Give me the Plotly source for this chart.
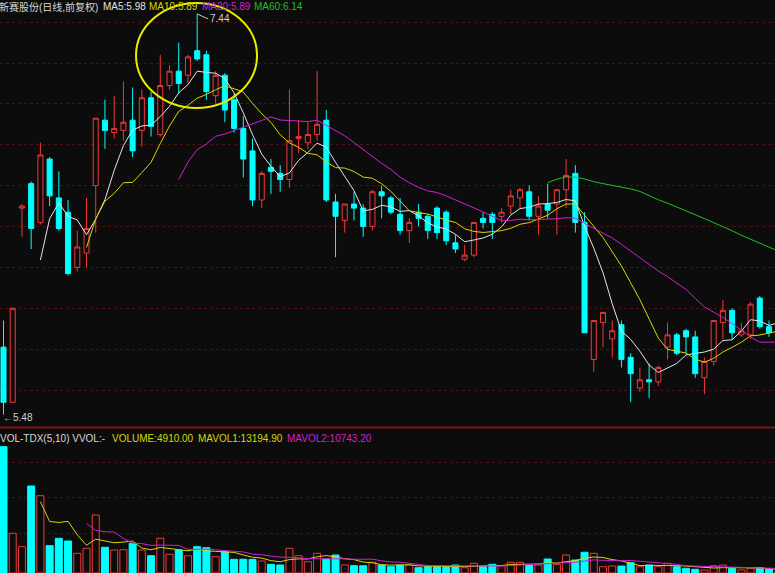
import pandas as pd
import plotly.graph_objects as go

# ---- daily bars (前复权) ----
opens = [5.81, 5.54, 6.49, 6.61, 6.42, 6.73, 6.54, 6.47, 6.20, 6.27,
         6.60, 6.92, 6.86, 6.87, 6.92, 6.87, 7.03, 6.85, 7.09, 7.16,
         7.14, 7.26, 7.24, 7.04, 7.14, 7.02, 6.88, 6.77, 6.53, 6.69,
         6.66, 6.63, 6.83, 6.81, 6.85, 6.92, 6.52, 6.43, 6.51, 6.49,
         6.40, 6.57, 6.54, 6.46, 6.38, 6.47, 6.45, 6.49, 6.47, 6.32,
         6.24, 6.26, 6.44, 6.46, 6.45, 6.50, 6.54, 6.57, 6.45, 6.51,
         6.51, 6.58, 6.66, 6.42, 5.75, 5.93, 5.85, 5.92, 5.76, 5.61,
         5.65, 5.64, 5.81, 5.87, 5.89, 5.86, 5.66, 5.74, 5.93, 5.99,
         5.87, 5.87, 6.05, 5.91, 5.90]
highs = [5.94, 6.00, 6.51, 6.62, 6.81, 6.74, 6.67, 6.53, 6.38, 6.54,
         6.93, 7.02, 7.04, 7.11, 7.08, 7.07, 7.06, 7.24, 7.19, 7.30,
         7.24, 7.44, 7.26, 7.16, 7.15, 7.05, 6.94, 6.83, 6.67, 6.73,
         6.70, 7.07, 6.92, 6.91, 7.16, 6.97, 6.56, 6.51, 6.57, 6.51,
         6.58, 6.60, 6.55, 6.54, 6.44, 6.51, 6.46, 6.50, 6.48, 6.36,
         6.31, 6.42, 6.47, 6.47, 6.49, 6.58, 6.59, 6.60, 6.55, 6.61,
         6.58, 6.73, 6.70, 6.47, 5.94, 5.98, 5.94, 5.94, 5.78, 5.71,
         5.73, 5.72, 5.93, 5.88, 5.90, 5.89, 5.76, 5.94, 6.04, 6.00,
         5.93, 6.03, 6.06, 5.94, 5.98]
lows = [5.48, 5.54, 6.35, 6.29, 6.41, 6.50, 6.38, 6.16, 6.18, 6.20,
        6.37, 6.78, 6.83, 6.82, 6.74, 6.79, 6.84, 6.84, 7.07, 7.05,
        7.10, 7.21, 7.02, 7.00, 6.91, 6.86, 6.64, 6.50, 6.49, 6.56,
        6.57, 6.59, 6.76, 6.78, 6.82, 6.52, 6.25, 6.37, 6.43, 6.35,
        6.38, 6.44, 6.46, 6.36, 6.32, 6.40, 6.34, 6.34, 6.31, 6.27,
        6.23, 6.25, 6.39, 6.34, 6.42, 6.46, 6.49, 6.43, 6.36, 6.44,
        6.36, 6.49, 6.37, 5.88, 5.69, 5.81, 5.76, 5.71, 5.54, 5.59,
        5.56, 5.62, 5.75, 5.77, 5.78, 5.66, 5.58, 5.72, 5.85, 5.85,
        5.86, 5.85, 5.90, 5.86, 5.88]
closes = [5.54, 6.00, 6.50, 6.39, 6.75, 6.55, 6.39, 6.17, 6.30, 6.39,
          6.93, 6.87, 6.88, 6.91, 6.77, 7.03, 6.89, 7.09, 7.16, 7.10,
          7.23, 7.22, 7.06, 7.14, 6.97, 6.88, 6.73, 6.53, 6.66, 6.67,
          6.63, 6.82, 6.84, 6.85, 6.90, 6.53, 6.45, 6.51, 6.49, 6.40,
          6.57, 6.55, 6.47, 6.38, 6.42, 6.44, 6.38, 6.37, 6.33, 6.29,
          6.26, 6.42, 6.42, 6.42, 6.47, 6.55, 6.58, 6.45, 6.50, 6.48,
          6.58, 6.65, 6.42, 5.88, 5.94, 5.98, 5.89, 5.75, 5.68, 5.65,
          5.64, 5.71, 5.87, 5.78, 5.86, 5.68, 5.74, 5.94, 5.99, 5.88,
          5.89, 6.02, 5.91, 5.88, 5.95]
volumes = [328400, 103200, 68400, 226200, 201000, 71000, 90200, 83200, 51200, 64200,
           150800, 66800, 59800, 60500, 77200, 59600, 45000, 90200, 48600, 59900,
           44800, 68400, 65800, 42400, 55400, 35600, 35800, 35400, 31200, 22600,
           20800, 64300, 45000, 29400, 51300, 36400, 46800, 20900, 19000, 18900,
           27800, 20700, 16400, 20600, 20900, 13800, 16300, 16500, 16200, 20700,
           13700, 25200, 16400, 22600, 19000, 27900, 27800, 20800, 20700, 36400,
           22500, 46800, 33800, 53800, 51200, 16400, 18200, 18100, 26800, 16300,
           20800, 16500, 25200, 16200, 12200, 9600, 7800, 18900, 20800, 12300,
           7900, 12200, 13800, 9500, 4910]

# header texts
title_text = "新赛股份(日线,前复权)"
ma_labels = ["MA5:5.98", "MA10:5.89", "MA20:5.89", "MA60:6.14"]
vol_labels = ["VOL-TDX(5,10) VVOL:-", "VOLUME:4910.00", "MAVOL1:13194.90", "MAVOL2:10743.20"]

W, H = 775, 573
BG = "#0c0c0c"
RED = "#f03838"
CYAN = "#00ffff"
GRID = "#4a1212"
MA_COLORS = {5: "#e4e4e4", 10: "#d8d800", 20: "#d020d0", 60: "#20c020"}

# horizontal geometry: one bar per unit, 9.223 px apart
STEP = 9.223
XMIN = -3.5 / STEP
XMAX = XMIN + W / STEP

# vertical geometry of the two panes (pixels from top)
PRICE_BOTTOM_PX = 425
VOL_TOP_PX = 429
PX_PER_YUAN = 204.4
P_TOP = 7.2 + 63 / PX_PER_YUAN
P_BOTTOM = 7.2 - (PRICE_BOTTOM_PX - 63) / PX_PER_YUAN
VOL_PER_PX = 2600

idx = list(range(len(closes)))
cs = pd.Series(closes)
vs = pd.Series(volumes)

fig = go.Figure()

fig.add_trace(go.Candlestick(
    x=idx, open=opens, high=highs, low=lows, close=closes,
    increasing=dict(line=dict(color=RED, width=1), fillcolor=BG),
    decreasing=dict(line=dict(color=CYAN, width=1), fillcolor=CYAN),
    whiskerwidth=0, hoverinfo="skip", showlegend=False))

for n in (5, 10, 20, 60):
    fig.add_trace(go.Scatter(
        x=idx, y=cs.rolling(n).mean(), mode="lines",
        line=dict(color=MA_COLORS[n], width=1), hoverinfo="skip", showlegend=False))

up = [c >= o for o, c in zip(opens, closes)]
fig.add_trace(go.Bar(
    x=idx, y=volumes, yaxis="y2", width=0.76,
    marker=dict(color=[BG if u else CYAN for u in up],
                line=dict(color=[RED if u else CYAN for u in up], width=1)),
    hoverinfo="skip", showlegend=False))
fig.add_trace(go.Scatter(x=idx, y=vs.rolling(5).mean(), yaxis="y2", mode="lines",
                         line=dict(color="#d8d800", width=1), hoverinfo="skip", showlegend=False))
fig.add_trace(go.Scatter(x=idx, y=vs.rolling(10).mean(), yaxis="y2", mode="lines",
                         line=dict(color="#d020d0", width=1), hoverinfo="skip", showlegend=False))

def py(px):
    return 1 - px / H

fig.update_layout(
    width=W, height=H, margin=dict(l=0, r=0, t=0, b=0),
    paper_bgcolor=BG, plot_bgcolor=BG, showlegend=False, boxgap=0.22,
    xaxis=dict(range=[XMIN, XMAX], visible=False, rangeslider=dict(visible=False), fixedrange=True),
    yaxis=dict(domain=[py(PRICE_BOTTOM_PX), 1], range=[P_BOTTOM, P_TOP],
               showgrid=True, gridcolor=GRID, griddash="dot", gridwidth=1,
               tick0=5.6, dtick=0.2, showticklabels=False, zeroline=False, ticks=""),
    yaxis2=dict(domain=[0, py(VOL_TOP_PX)], range=[0, (H - VOL_TOP_PX) * VOL_PER_PX],
                showgrid=True, gridcolor=GRID, griddash="dot", gridwidth=1,
                tickvals=[40 * VOL_PER_PX, 76 * VOL_PER_PX, 111 * VOL_PER_PX],
                showticklabels=False, zeroline=False, ticks=""),
)

# pane separator
fig.add_shape(type="line", xref="paper", yref="paper", x0=0, x1=1,
              y0=py(427.5), y1=py(427.5), line=dict(color="#7a1616", width=2))

# highlight ring around the top
fig.add_shape(type="circle", xref="x", yref="y",
              x0=14.37, x1=27.49, y0=6.98, y1=7.494,
              line=dict(color="#ecec00", width=2))

FONT = "Liberation Sans, Arial, Noto Sans CJK SC"

def label(text, xpx, ypx, color):
    fig.add_annotation(text=text, xref="paper", yref="paper", x=xpx / W, y=py(ypx),
                       xanchor="left", yanchor="middle", showarrow=False,
                       font=dict(family=FONT, size=10, color=color))

label(title_text, -3, 7, "#d8d8d8")
for t, xp, c in zip(ma_labels, [101, 147, 200, 252],
                    ["#e0e0e0", "#d8d800", "#d020d0", "#20c020"]):
    label(t, xp, 7, c)
for t, xp, c in zip(vol_labels, [-2, 110, 196, 285],
                    ["#d8d8d8", "#d8d800", "#d8d800", "#d020d0"]):
    label(t, xp, 438, c)

# highest / lowest price markers
hi_i = max(idx, key=lambda i: highs[i])
lo_i = min(idx, key=lambda i: lows[i])
fig.add_annotation(x=hi_i, y=highs[hi_i], xref="x", yref="y", text=f"{highs[hi_i]:.2f}",
                   showarrow=True, arrowhead=0, arrowwidth=1, arrowcolor="#c8c8c8",
                   ax=11, ay=5, xanchor="left", yanchor="middle",
                   font=dict(family=FONT, size=10, color="#d0d0d0"))
fig.add_annotation(x=lo_i, y=lows[lo_i], xref="x", yref="y", text=f"←{lows[lo_i]:.2f}",
                   showarrow=False, xanchor="left", yanchor="middle", xshift=-3, yshift=-3,
                   font=dict(family=FONT, size=10, color="#d0d0d0"))

fig.write_html("out.html", config={"displayModeBar": False})
